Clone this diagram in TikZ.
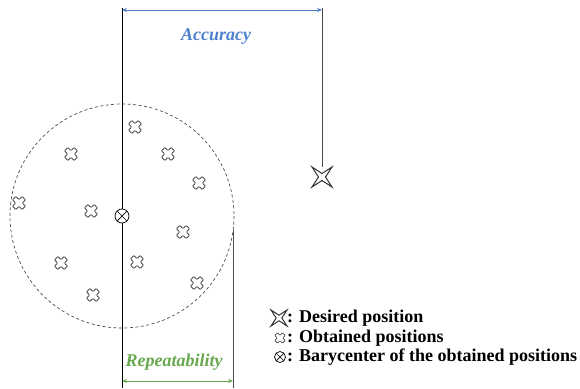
\documentclass[tikz,border=0pt]{standalone}
\usepackage{fontspec}
\setmainfont{Liberation Serif}
\usetikzlibrary{arrows.meta}
\definecolor{accblue}{RGB}{78,128,208}
\definecolor{repgreen}{RGB}{104,168,78}
\tikzset{
    obtained/.pic={
        \draw[line width=0.6pt, black!85, rounded corners=0.6pt, rotate=45]
            (-2.4,-6.8) -- (2.4,-6.8) -- (2.4,-2.4) -- (6.8,-2.4) -- (6.8,2.4) -- (2.4,2.4)
            -- (2.4,6.8) -- (-2.4,6.8) -- (-2.4,2.4) -- (-6.8,2.4) -- (-6.8,-2.4) -- (-2.4,-2.4) -- cycle;
    },
    desired/.pic={
        \draw[line width=1pt, black!80, line join=miter]
            (10,10) -- (0,3.5) -- (-10,10) -- (-3.5,0) -- (-10,-10) -- (0,-3.5)
            -- (10,-10) -- (3.5,0) -- cycle;
    },
    barynode/.style={circle, draw, line width=0.7pt, inner sep=0pt, minimum size=#1,
        path picture={
            \draw (path picture bounding box.north west) -- (path picture bounding box.south east);
            \draw (path picture bounding box.north east) -- (path picture bounding box.south west);
        }},
    legend/.style={anchor=west, font=\fontsize{18}{20}\selectfont\bfseries, inner sep=0pt},
    tag/.style={font=\fontsize{18}{20}\selectfont\bfseries\itshape},
    span/.style={line width=0.8pt, {Stealth[length=5pt,width=4pt]}-{Stealth[length=5pt,width=4pt]}}
}
\begin{document}
\begin{tikzpicture}[x=1pt, y=-1pt]
        \useasboundingbox (0,0) rectangle (580,388);

        % Obtained positions around the barycenter
        \draw[dashed, line width=0.7pt, black!70, dash pattern=on 3pt off 2.5pt] (122,216) circle[radius=112];
        \foreach \px/\py in {135/127, 71/154, 168/154, 199/183, 19/203, 91/211,
                             183/232, 137/262, 61/263, 197/283, 93/295} {
            \pic at (\px,\py) {obtained};
        }
        \node[barynode=14pt] (bary) at (122,216) {};

        % Desired position
        \coordinate (goal) at (322,177);
        \pic at (goal) {desired};

        % Reference lines
        \coordinate (topL) at (122,8);
        \coordinate (topR) at (322,8);
        \coordinate (botL) at (122,388);
        \coordinate (repT) at (233,230);
        \coordinate (botR) at (233,388);
        \draw[line width=0.7pt] (topL) -- (bary.north);
        \draw[line width=0.7pt] (bary.south) -- (botL);
        \draw[line width=0.7pt, black!70] (topR) -- ([yshift=10pt]goal);
        \draw[line width=0.7pt, black!70] (repT) -- (botR);

        % Accuracy
        \coordinate (accL) at (122,10);
        \coordinate (accR) at (322,10);
        \draw[span, accblue] (accL) -- (accR);
        \node[tag, text=accblue] (acc) at (216,37) {Accuracy};

        % Repeatability
        \coordinate (repL) at (122,381);
        \coordinate (repR) at (233,381);
        \draw[span, repgreen] (repL) -- (repR);
        \node[tag, text=repgreen] (rep) at (174,362) {Repeatability};

        % Legend
        \pic[scale=0.8] at (279,318) {desired};
        \node[legend] (lg1) at (287,318) {: Desired position};
        \pic[scale=0.8] at (280,338) {obtained};
        \node[legend] (lg2) at (287,338) {: Obtained positions};
        \node[barynode=11pt] (lgb) at (280,357) {};
        \node[legend] (lg3) at (287,357) {: Barycenter of the obtained positions};
    \end{tikzpicture}
\end{document}
